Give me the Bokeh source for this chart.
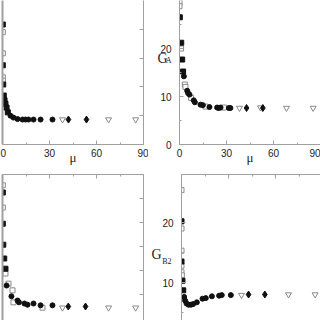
from bokeh.plotting import figure
from bokeh.layouts import column, row
from bokeh.models import Range1d, LinearAxis, FixedTicker
from bokeh.embed import file_html
from bokeh.resources import INLINE

# ---------------- data ----------------
MU_TICKS = [0, 30, 60, 90]
MU_MINOR = [15, 45, 75]
GA_TICKS = [0, 10, 20]
GB2_TICKS = [10, 20]

# top-left panel
tl_fsq_x = [0.2, 0.2, 0.45, 0.8, 1.3, 1.9, 2.6, 3.4]
tl_fsq_y = [25.0, 16.5, 12.5, 10.2, 9.2, 8.5, 7.7, 6.7]
tl_osq_x = [0.2, 0.2, 0.2, 0.2]
tl_osq_y = [23.4, 19.0, 14.0, 13.3]
tl_fci_x = [5.1, 7.0, 9.6, 12.8, 14.7, 16.6, 19.8, 24.3, 31.9]
tl_fci_y = [6.0, 5.6, 5.3, 5.2, 5.2, 5.2, 5.2, 5.2, 5.2]
tl_otr_x = [38.3, 67.7, 85.0]
tl_otr_y = [5.2, 5.2, 5.2]
tl_fdi_x = [42.1, 53.6]
tl_fdi_y = [5.2, 5.2]

# top-right panel (G_A)
tr_fsq_x = [0.0, 0.2, 1.1, 1.7, 2.3]
tr_fsq_y = [31.0, 26.5, 21.2, 17.7, 15.2]
tr_osq_x = [0.0, 0.0, 1.0, 3.4, 3.8, 7.4, 16.6, 28.3]
tr_osq_y = [29.6, 28.8, 20.0, 12.5, 12.0, 9.7, 7.9, 7.7]
tr_fci_x = [2.8, 4.9, 5.5, 6.4, 9.1, 9.8, 13.4, 14.9, 19.1, 24.0, 25.0, 26.2, 31.5, 32.5]
tr_fci_y = [14.2, 11.2, 10.7, 10.4, 9.2, 8.8, 8.3, 8.2, 7.8, 7.7, 7.6, 7.7, 7.6, 7.6]
tr_otr_x = [38.3, 51.7, 68.3, 85.3]
tr_otr_y = [7.6, 7.7, 7.6, 7.6]
tr_fdi_x = [42.8, 53.2]
tr_fdi_y = [7.6, 7.6]

# bottom-left panel
bl_fsq_x = [0.2, 0.2, 0.5, 1.1, 1.9]
bl_fsq_y = [25.0, 19.8, 16.3, 14.0, 12.3]
bl_osq_x = [0.2, 0.2, 1.9, 3.8, 6.4, 7.0, 25.5]
bl_osq_y = [26.2, 22.5, 11.5, 9.8, 8.7, 6.7, 5.8]
bl_fci_x = [2.6, 5.7, 9.6, 10.5, 14.0, 16.0, 19.8, 24.3, 31.9]
bl_fci_y = [9.5, 7.7, 7.0, 6.7, 6.5, 6.3, 6.5, 6.2, 6.2]
bl_otr_x = [38.3, 67.7, 85.0]
bl_otr_y = [5.8, 5.8, 5.8]
bl_fdi_x = [42.0, 53.0]
bl_fdi_y = [6.0, 6.0]

# bottom-right panel (G_B2)
br_fsq_x = [0.0, 0.0, 0.6, 1.1]
br_fsq_y = [20.2, 13.5, 10.3, 8.7]
br_osq_x = [0.0, 0.0, 0.0, 0.0, 0.0, 0.2]
br_osq_y = [25.4, 19.0, 15.3, 12.8, 11.7, 11.2]
br_fci_x = [1.7, 2.3, 3.2, 4.5, 6.0, 7.4, 9.8, 13.4, 15.5, 19.4, 24.0, 25.7, 31.5]
br_fci_y = [7.6, 7.0, 6.5, 6.3, 6.3, 6.4, 6.7, 7.3, 7.4, 7.7, 7.8, 7.9, 7.9]
br_otr_x = [38.3, 68.3, 85.3]
br_otr_y = [7.9, 8.0, 8.0]
br_fdi_x = [42.8, 53.2]
br_fdi_y = [8.0, 8.0]

# axis titles
X_TITLE = "μ"
GA_MAIN, GA_SUB = "G", "A"
GB_MAIN, GB_SUB = "G", "B2"

# ---------------- styling ----------------
AXIS_COLOR = "#a0a0a0"
TEXT_COLOR = "#222222"
BLACK = "#111111"
GRAY = "#8a8a8a"
LEFT_W_BORDER = 5     # right border of the left-hand panels
RIGHT_P_BORDER = 31   # left border of the right-hand panels


def make_fig(y_range, fh, left, right, top, bottom):
    p = figure(frame_width=141, frame_height=fh, x_range=Range1d(0, 90), y_range=y_range,
               output_backend="svg", toolbar_location=None,
               x_axis_location=None, y_axis_location=None,
               min_border_left=left, min_border_right=right,
               min_border_top=top, min_border_bottom=bottom)
    p.xgrid.visible = False
    p.ygrid.visible = False
    p.outline_line_color = None
    p.background_fill_color = "white"
    p.border_fill_color = "white"
    return p


def add_axis(p, side, ticks, minor, labels, standoff=4, width=1):
    ax = LinearAxis(ticker=FixedTicker(ticks=ticks, minor_ticks=minor))
    ax.axis_line_color = AXIS_COLOR
    ax.axis_line_width = width
    ax.major_tick_line_color = AXIS_COLOR
    ax.minor_tick_line_color = AXIS_COLOR
    ax.major_tick_in = 4
    ax.major_tick_out = 0
    ax.minor_tick_in = 2
    ax.minor_tick_out = 0
    if labels:
        ax.major_label_text_font = "Liberation Sans"
        ax.major_label_text_font_size = "10px"
        ax.major_label_text_color = TEXT_COLOR
        ax.major_label_standoff = standoff
    else:
        ax.major_label_overrides = {t: "" for t in ticks}
        ax.major_label_text_font_size = "0px"
        ax.major_label_standoff = 0
    p.add_layout(ax, side)
    return ax


def add_mu_title(ax):
    ax.axis_label = X_TITLE
    ax.axis_label_text_font = "Liberation Serif"
    ax.axis_label_text_font_style = "normal"
    ax.axis_label_text_font_size = "13px"
    ax.axis_label_text_color = TEXT_COLOR
    ax.axis_label_standoff = -10


def add_text_axis(p, y, text, size, standoff):
    # a tick-less left axis that only carries one label (axis title piece)
    ax = LinearAxis(ticker=FixedTicker(ticks=[y], minor_ticks=[]))
    ax.major_label_overrides = {y: text}
    ax.axis_line_color = None
    ax.major_tick_line_color = None
    ax.minor_tick_line_color = None
    ax.major_tick_in = 0
    ax.major_tick_out = 0
    ax.major_label_text_font = "Liberation Serif"
    ax.major_label_text_font_size = size
    ax.major_label_text_color = TEXT_COLOR
    ax.major_label_standoff = standoff
    p.add_layout(ax, "left")
    return ax


def add_points(p, fsq, osq, fci, otr, fdi):
    p.scatter(osq[0], osq[1], marker="square", size=5, fill_color="white", line_color=GRAY, line_width=1)
    p.scatter(otr[0], otr[1], marker="inverted_triangle", size=6, fill_color="white", line_color=GRAY, line_width=1)
    p.scatter(fsq[0], fsq[1], marker="square", size=5, fill_color=BLACK, line_color=BLACK)
    p.scatter(fci[0], fci[1], marker="circle", size=5, fill_color=BLACK, line_color=BLACK)
    p.scatter(fdi[0], fdi[1], marker="diamond", size=7, fill_color=BLACK, line_color=BLACK)


# top-left
p1 = make_fig(Range1d(0, 30), 144, 2, LEFT_W_BORDER, 0, 24)
ax = add_axis(p1, "below", MU_TICKS, MU_MINOR, True, standoff=4)
add_mu_title(ax)
add_axis(p1, "left", [], [], False, width=2)
add_axis(p1, "right", [0, 6, 12, 18, 24], [], False)
add_points(p1, (tl_fsq_x, tl_fsq_y), (tl_osq_x, tl_osq_y), (tl_fci_x, tl_fci_y),
           (tl_otr_x, tl_otr_y), (tl_fdi_x, tl_fdi_y))

# top-right
p2 = make_fig(Range1d(0, 30), 144, RIGHT_P_BORDER, 0, 0, 24)
ax = add_axis(p2, "below", MU_TICKS, MU_MINOR, True, standoff=4)
add_mu_title(ax)
add_axis(p2, "left", GA_TICKS, [5, 15, 25], True, standoff=8)
add_text_axis(p2, 17.4, GA_SUB, "8px", -14)
add_text_axis(p2, 18.0, GA_MAIN, "14px", -10)
add_points(p2, (tr_fsq_x, tr_fsq_y), (tr_osq_x, tr_osq_y), (tr_fci_x, tr_fci_y),
           (tr_otr_x, tr_otr_y), (tr_fdi_x, tr_fdi_y))

# bottom-left
p3 = make_fig(Range1d(3.67, 28), 146, 2, LEFT_W_BORDER, 6, 0)
add_axis(p3, "above", MU_TICKS, MU_MINOR, False)
add_axis(p3, "left", [], [], False, width=2)
add_axis(p3, "right", [8, 12, 16, 20, 24], [], False)
add_points(p3, (bl_fsq_x, bl_fsq_y), (bl_osq_x, bl_osq_y), (bl_fci_x, bl_fci_y),
           (bl_otr_x, bl_otr_y), (bl_fdi_x, bl_fdi_y))

# bottom-right
p4 = make_fig(Range1d(3.67, 28), 146, RIGHT_P_BORDER, 0, 6, 0)
add_axis(p4, "above", MU_TICKS, MU_MINOR, False)
add_axis(p4, "left", GB2_TICKS, [5, 15, 25], True, standoff=8)
add_text_axis(p4, 13.5, GB_SUB, "8px", -12)
add_text_axis(p4, 14.6, GB_MAIN, "14px", -2)
add_points(p4, (br_fsq_x, br_fsq_y), (br_osq_x, br_osq_y), (br_fci_x, br_fci_y),
           (br_otr_x, br_otr_y), (br_fdi_x, br_fdi_y))

layout = column(row(p1, p2, spacing=0), row(p3, p4, spacing=0), spacing=0)

open("out.html", "w").write(file_html(layout, INLINE))
